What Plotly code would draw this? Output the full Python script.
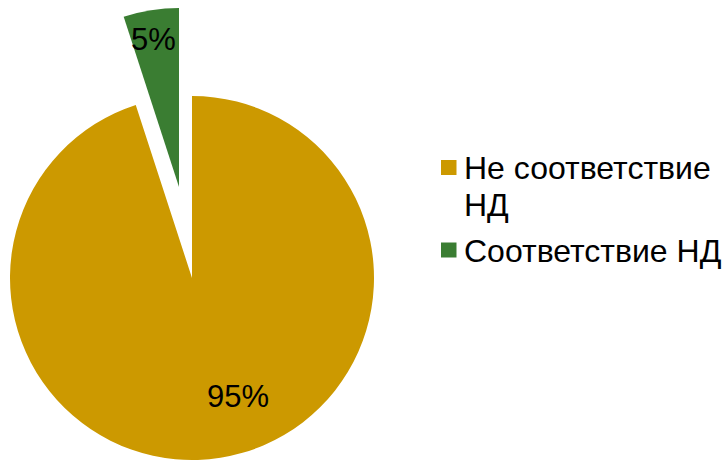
import plotly.graph_objects as go

labels = ["Не соответствие НД", "Соответствие НД"]
values = [95, 5]
colors = ["#CC9900", "#3A7D32"]
legend_lines = [["Не соответствие", "НД"], ["Соответствие НД"]]

W, H = 725, 460
FONT = "Liberation Sans, Arial, sans-serif"

def dom(x0, x1, y0, y1):
    # pixel box -> paper domain
    return dict(x=[x0 / W, x1 / W], y=[1 - y1 / H, 1 - y0 / H])

total = sum(values)
fig = go.Figure()
# main (non-exploded) slice
fig.add_trace(go.Pie(
    labels=labels, values=values, sort=False, direction="clockwise", rotation=0,
    marker=dict(colors=[colors[0], "rgba(0,0,0,0)"], line=dict(width=0)),
    textinfo="none", hoverinfo="label+percent", showlegend=False,
    domain=dom(10, 374, 96, 460),
))
# exploded slice
fig.add_trace(go.Pie(
    labels=labels, values=values, sort=False, direction="clockwise", rotation=0,
    marker=dict(colors=["rgba(0,0,0,0)", colors[1]], line=dict(width=0)),
    textinfo="none", hoverinfo="label+percent", showlegend=False,
    domain=dom(0, 358, 8, 366),
))

pct = [f"{round(v / total * 100)}%" for v in values]
label_pos = [(238, 396), (153, 40)]
for t, (px, py) in zip(pct, label_pos):
    fig.add_annotation(x=px / W, y=1 - py / H, xref="paper", yref="paper",
                       text=t, showarrow=False, xanchor="center", yanchor="middle",
                       font=dict(family=FONT, size=31, color="#000000"))

# legend
square_centers = [167.5, 250]
line_tops = [[148, 185], [230.5]]
for c, yc, lines, tops in zip(colors, square_centers, legend_lines, line_tops):
    fig.add_shape(type="rect", xref="paper", yref="paper",
                  x0=441 / W, x1=456.5 / W, y0=1 - (yc + 7.5) / H, y1=1 - (yc - 7.5) / H,
                  fillcolor=c, line=dict(width=0))
    for t, top in zip(lines, tops):
        fig.add_annotation(x=462 / W, y=1 - top / H, xref="paper", yref="paper",
                           text=t, showarrow=False, xanchor="left", yanchor="top", align="left",
                           font=dict(family=FONT, size=32, color="#000000"))

fig.update_layout(width=W, height=H, margin=dict(l=0, r=0, t=0, b=0),
                  paper_bgcolor="white", plot_bgcolor="white", showlegend=False)
fig.write_html("out.html")
